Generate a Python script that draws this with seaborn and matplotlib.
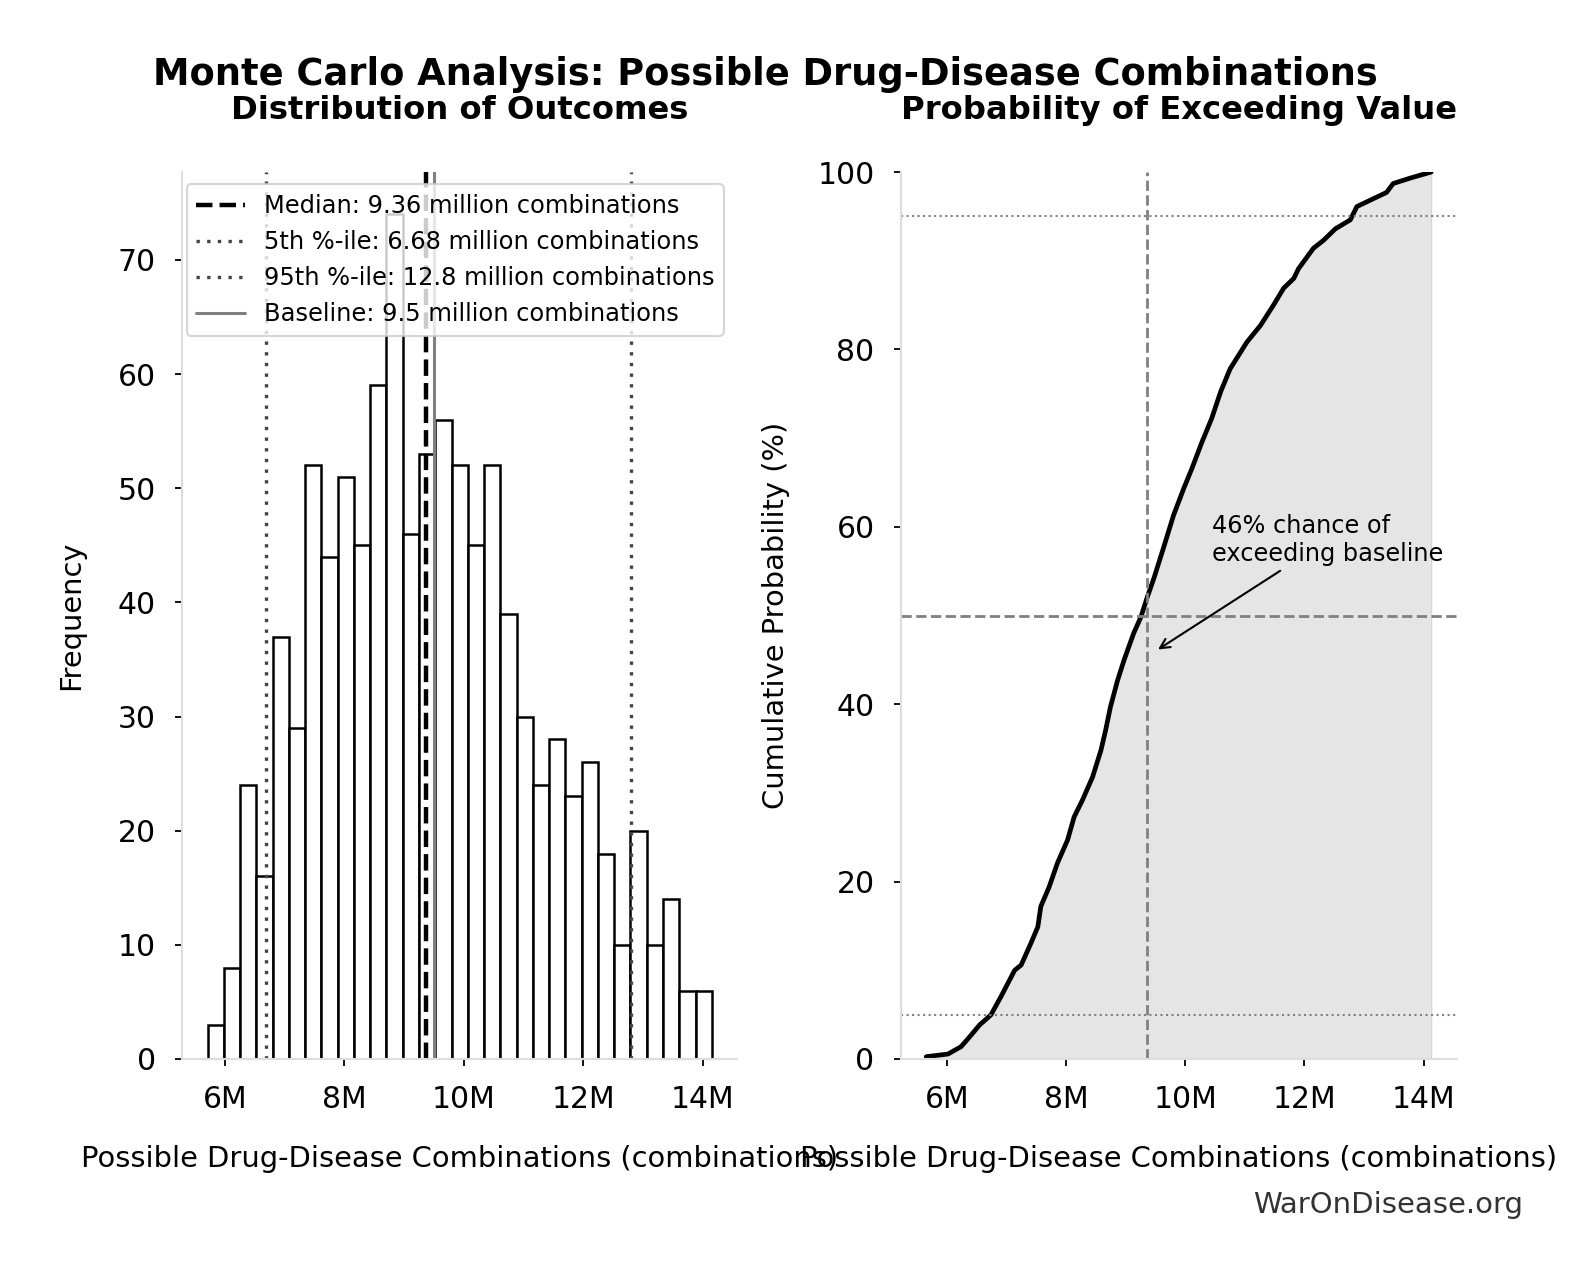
import numpy as np
import pandas as pd
import matplotlib
matplotlib.use("Agg")
import matplotlib.pyplot as plt
from matplotlib.ticker import FuncFormatter
import seaborn as sns

# ---------------- data (values in millions of combinations) ----------------
bin_start = 5.707
bin_width = 0.2723
counts = [3, 8, 24, 16, 37, 29, 52, 44, 51, 45, 59, 74, 46, 53, 56, 52,
          45, 52, 39, 30, 24, 28, 23, 26, 18, 10, 20, 10, 14, 6, 6]

median_val = 9.36
p5_val = 6.68
p95_val = 12.8
baseline_val = 9.5
exceed_pct = 46

cdf_x = [5.645, 6.01, 6.23, 6.40, 6.54, 6.73, 6.90, 7.13, 7.24, 7.40, 7.52,
         7.57, 7.71, 7.85, 8.02, 8.13, 8.27, 8.44, 8.58, 8.66, 8.74, 8.86,
         8.97, 9.13, 9.25, 9.36, 9.47, 9.63, 9.80, 9.97, 10.11, 10.28,
         10.44, 10.59, 10.75, 10.89, 11.03, 11.26, 11.48, 11.65, 11.82,
         11.90, 12.15, 12.32, 12.52, 12.77, 12.88, 13.16, 13.38, 13.49,
         13.77, 14.13]
cdf_pct = [0.26, 0.56, 1.39, 2.70, 3.83, 4.96, 7.03, 10.0, 10.6, 13.0, 14.9,
           17.2, 19.4, 22.1, 24.7, 27.3, 29.2, 31.8, 34.8, 37.1, 39.7, 42.7,
           45.0, 48.0, 49.8, 52.1, 54.2, 57.6, 61.3, 64.3, 66.6, 69.6,
           72.2, 75.2, 77.8, 79.3, 80.8, 82.7, 85.0, 86.9, 88.0,
           89.1, 91.4, 92.3, 93.6, 94.6, 96.1, 97.0, 97.7, 98.7,
           99.3, 100.0]

title = "Monte Carlo Analysis: Possible Drug-Disease Combinations"
sub_left = "Distribution of Outcomes"
sub_right = "Probability of Exceeding Value"
xlabel = "Possible Drug-Disease Combinations (combinations)"

# ---------------- style ----------------
sns.set_theme(style="white")
plt.rcParams.update({
    "font.family": ["DejaVu Sans"],
    "text.color": "black",
    "axes.labelcolor": "black",
    "axes.edgecolor": "#dddddd",
    "axes.linewidth": 1.5,
    "xtick.bottom": True,
    "ytick.left": True,
    "xtick.color": "black",
    "ytick.color": "black",
    "xtick.major.size": 5,
    "ytick.major.size": 5,
    "xtick.major.width": 1.3,
    "ytick.major.width": 1.3,
    "xtick.major.pad": 14,
    "ytick.major.pad": 14,
    "xtick.labelsize": 21.5,
    "ytick.labelsize": 21.5,
})

W, H = 1581, 1280
fig = plt.figure(figsize=(W / 100, H / 100), dpi=100)

ax1 = fig.add_axes([182.3 / W, (H - 1059) / H, 554.7 / W, 887 / H])
ax2 = fig.add_axes([901 / W, (H - 1059) / H, 555.5 / W, 887 / H])

# ---------------- left: histogram ----------------
edges = [bin_start + bin_width * i for i in range(len(counts) + 1)]
centers = [(edges[i] + edges[i + 1]) / 2 for i in range(len(counts))]
df_hist = pd.DataFrame({"value": centers, "count": counts})
sns.histplot(data=df_hist, x="value", weights="count", bins=edges, ax=ax1,
             color="white", edgecolor="black", linewidth=1.8, alpha=1)

ax1.axvline(median_val, color="black", ls="--", lw=3.2,
            label=f"Median: {median_val:.2f} million combinations")
ax1.axvline(p5_val, color="#444444", ls=(0, (1, 2.2)), lw=2.4,
            label=f"5th %-ile: {p5_val:.2f} million combinations")
ax1.axvline(p95_val, color="#444444", ls=(0, (1, 2.2)), lw=2.4,
            label=f"95th %-ile: {p95_val:.1f} million combinations")
ax1.axvline(baseline_val, color="#808080", ls="-", lw=2.2,
            label=f"Baseline: {baseline_val:.1f} million combinations")

ax1.set_ylabel("Frequency", fontsize=20.8)
ax1.set_xlabel(xlabel, fontsize=20.8)
ax1.xaxis.set_major_formatter(FuncFormatter(lambda v, p: f"{v:.0f}M"))
ax1.set_title(sub_left, fontsize=23.2, fontweight="bold", pad=38.5)
leg = ax1.legend(loc="upper left", bbox_to_anchor=(0.0076, 0.986),
                 borderaxespad=0, fontsize=17.4, frameon=True,
                 framealpha=0.8, edgecolor="#cccccc", fancybox=True)
leg.get_frame().set_linewidth(1.5)

# ---------------- right: cumulative ----------------
ax2.fill_between(cdf_x, cdf_pct, color="gray", alpha=0.2)
sns.lineplot(x=cdf_x, y=cdf_pct, ax=ax2, color="black", lw=3.4,
             sort=False, estimator=None)
ax2.axhline(50, color="gray", ls="--", lw=2)
ax2.axvline(median_val, color="gray", ls="--", lw=2)
ax2.axhline(5, color="gray", ls=":", lw=1.5)
ax2.axhline(95, color="gray", ls=":", lw=1.5)
ax2.set_ylim(0, 100)
ax2.set_yticks([0, 20, 40, 60, 80, 100])
ax2.xaxis.set_major_formatter(FuncFormatter(lambda v, p: f"{v:.0f}M"))
ax2.set_ylabel("Cumulative Probability (%)", fontsize=20.8)
ax2.set_xlabel(xlabel, fontsize=20.8)
ax2.set_title(sub_right, fontsize=23.2, fontweight="bold", pad=38.5)
ax2.annotate(f"{exceed_pct}% chance of\nexceeding baseline",
             xy=(baseline_val, exceed_pct), xytext=(10.45, 58.5),
             fontsize=17.3, ha="left", va="center",
             arrowprops=dict(arrowstyle="->", color="black", lw=1.5))

for ax in (ax1, ax2):
    sns.despine(ax=ax)
    ax.xaxis.set_label_coords(0.5, -0.097)

ax1.yaxis.set_label_coords(-0.175, 0.5)
ax2.yaxis.set_label_coords(-0.2, 0.5)

fig.text(765 / W, 1 - 85 / H, title, fontsize=26.5, fontweight="bold",
         ha="center", va="baseline")
fig.text(1523 / W, 1 - 1205 / H, "WarOnDisease.org", fontsize=21,
         color="#333333", ha="right", va="center")

fig.savefig("out.png", dpi=100)
